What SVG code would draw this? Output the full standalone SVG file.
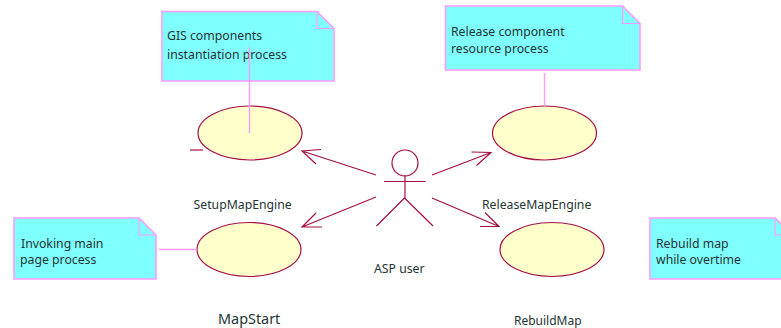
<svg xmlns="http://www.w3.org/2000/svg" width="781" height="328" viewBox="0 0 781 328">
<style>
text{font-family:"Noto Sans","DejaVu Sans",sans-serif;font-size:12.25px;fill:#243434}
.note{fill:#80ffff;stroke:#ff99ff;stroke-width:1.5}
.fold{fill:none;stroke:#ff99ff;stroke-width:1.2}
.link{fill:none;stroke:#ff99ff;stroke-width:1.4}
.uc{fill:#ffffcc;stroke:#a50f45;stroke-width:1.2}
.l{fill:none;stroke:#a50f45;stroke-width:1.2}
</style>
<rect width="781" height="328" fill="#fff"/>
<g id="note-gis"><path class="note" d="M162 11.500H317L334 28.500V81H162Z"/><path class="fold" d="M317 11.500V28.500H334"/><text x="167" y="40">GIS components</text><text x="167" y="58.500">instantiation process</text></g>
<g id="note-release"><path class="note" d="M445.500 6H622.500L640 23.500V70H445.500Z"/><path class="fold" d="M622.500 6V23.500H640"/><text x="451" y="36">Release component</text><text x="451" y="53">resource process</text></g>
<g id="note-invoke"><path class="note" d="M14 218H139L156 235V279H14Z"/><path class="fold" d="M139 218V235H156"/><text x="21" y="247.500">Invoking main</text><text x="20" y="264">page process</text></g>
<g id="note-rebuild"><path class="note" d="M650 218H775L792 235V279H650Z"/><path class="fold" d="M775 218V235H792"/><text x="656" y="247.500">Rebuild map</text><text x="656" y="264">while overtime</text></g>
<g id="uc-setup"><ellipse class="uc" cx="250" cy="133" rx="52" ry="27"/><text x="193.500" y="209">SetupMapEngine</text></g>
<g id="uc-release"><ellipse class="uc" cx="544.500" cy="133" rx="52" ry="27"/><text x="482" y="209">ReleaseMapEngine</text></g>
<g id="uc-start"><ellipse class="uc" cx="249" cy="249.500" rx="52" ry="27"/><text x="218" y="324" style="font-size:14.400px">MapStart</text></g>
<g id="uc-rebuild"><ellipse class="uc" cx="552" cy="249.500" rx="52" ry="27"/><text x="514" y="325" style="font-size:12px">RebuildMap</text></g>
<g id="actor"><circle class="l" cx="405" cy="163" r="13"/><path class="l" d="M405 175V198M384 181.500H425.500M404.500 198L376.500 226M404.500 198L433 226"/><text x="374" y="273">ASP user</text></g>
<g id="connectors">
<path class="link" d="M249.500 47V133M544.500 73V106M159 249.500H197"/>
<path class="l" d="M190 150H203"/>
<path class="l" d="M376 175L302 151M321 149.500L302 151L316 164"/>
<path class="l" d="M432 175L491 152.500M471.500 152L491 152.500L476.500 165.500"/>
<path class="l" d="M376 197L302 227M316 213L302 227L322 227"/>
<path class="l" d="M432 198L499 226.500M485 212.500L499 226.500L480 226.500"/>
</g>
</svg>
